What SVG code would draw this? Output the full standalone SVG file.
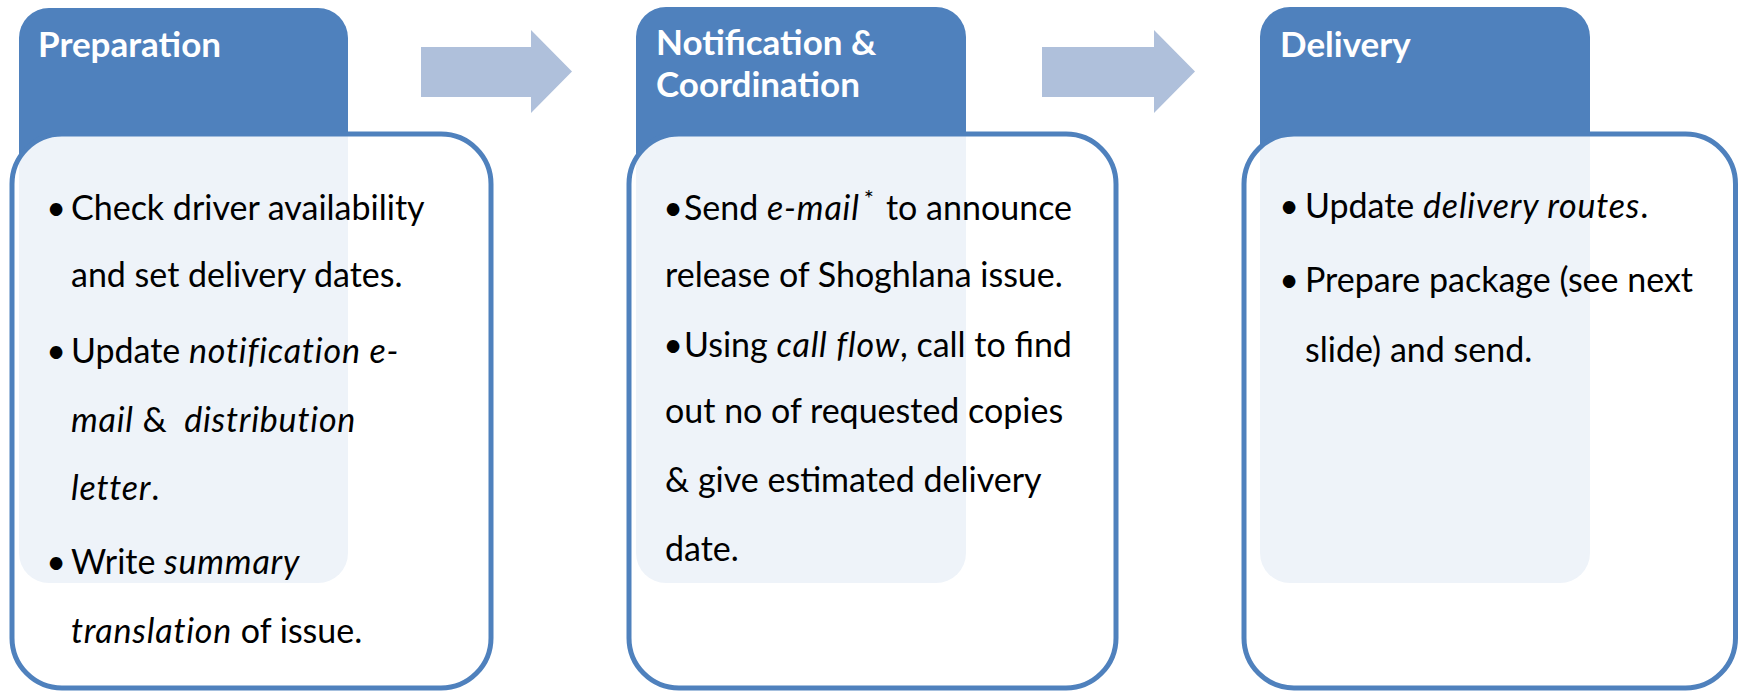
<svg xmlns="http://www.w3.org/2000/svg" width="1745" height="693" viewBox="0 0 1745 693">
  <style>
    .hdr { fill: #4F81BD; }
    .card { fill: #FFFFFF; fill-opacity: 0.9; stroke: #4F81BD; stroke-width: 5; }
    .arrow { fill: #AFC0DB; }
    .title { font-family: Lato, "Liberation Sans", sans-serif; font-weight: bold; font-size: 35px; fill: #FFFFFF; }
    .txt { font-family: Lato, "Liberation Sans", sans-serif; font-size: 34px; fill: #000000; }
    .bul { text-anchor: middle; }
    .it { font-style: italic; letter-spacing: 0.8px; }
  </style>
  <rect width="1745" height="693" fill="#FFFFFF"/>

  <!-- step arrows between the stages -->
  <g id="connectors">
    <polygon class="arrow" points="421,47 531,47 531,30 572,71.5 531,113 531,97 421,97"/>
    <polygon class="arrow" points="1042,47 1154,47 1154,30 1195,71.5 1154,113 1154,97 1042,97"/>
  </g>

  <!-- stage 1 -->
  <g id="preparation">
    <rect class="hdr" x="19" y="8" width="329" height="575" rx="30"/>
    <rect class="card" x="12" y="134" width="479" height="554" rx="50"/>
    <text class="title" x="38" y="57">Preparation</text>
    <text class="txt bul" x="56" y="220">•</text>
    <text class="txt" x="71" y="220">Check driver availability</text>
    <text class="txt" x="71" y="287">and set delivery dates.</text>
    <text class="txt bul" x="56" y="363">•</text>
    <text class="txt" x="71" y="363">Update <tspan class="it">notification e-</tspan></text>
    <text class="txt" x="71" y="432" xml:space="preserve"><tspan class="it">mail</tspan> &amp;  <tspan class="it">distribution</tspan></text>
    <text class="txt" x="71" y="500"><tspan class="it">letter</tspan>.</text>
    <text class="txt bul" x="56" y="574">•</text>
    <text class="txt" x="71" y="574">Write <tspan class="it">summary</tspan></text>
    <text class="txt" x="71" y="643"><tspan class="it">translation</tspan> of issue.</text>
  </g>

  <!-- stage 2 -->
  <g id="notification">
    <rect class="hdr" x="636" y="7" width="330" height="576" rx="30"/>
    <rect class="card" x="629" y="134" width="487" height="554" rx="50"/>
    <text class="title" x="656" y="55">Notification &amp;</text>
    <text class="title" x="656" y="97">Coordination</text>
    <text class="txt bul" x="673" y="220">•</text>
    <text class="txt" x="684" y="220">Send <tspan class="it">e-mail</tspan><tspan font-size="24" dx="4" dy="-13">*</tspan></text>
    <text class="txt" x="886" y="220">to announce</text>
    <text class="txt" x="665" y="287">release of Shoghlana issue.</text>
    <text class="txt bul" x="673" y="357">•</text>
    <text class="txt" x="684" y="357">Using <tspan class="it">call flow</tspan>, call to find</text>
    <text class="txt" x="665" y="423">out no of requested copies</text>
    <text class="txt" x="665" y="492">&amp; give estimated delivery</text>
    <text class="txt" x="665" y="561">date.</text>
  </g>

  <!-- stage 3 -->
  <g id="delivery">
    <rect class="hdr" x="1260" y="7" width="330" height="576" rx="30"/>
    <rect class="card" x="1244" y="134" width="491.5" height="554" rx="50"/>
    <text class="title" x="1280" y="57">Delivery</text>
    <text class="txt bul" x="1289" y="218">•</text>
    <text class="txt" x="1305" y="218">Update <tspan class="it">delivery routes</tspan>.</text>
    <text class="txt bul" x="1289" y="292">•</text>
    <text class="txt" x="1305" y="292">Prepare package (see next</text>
    <text class="txt" x="1305" y="362">slide) and send.</text>
  </g>
</svg>
